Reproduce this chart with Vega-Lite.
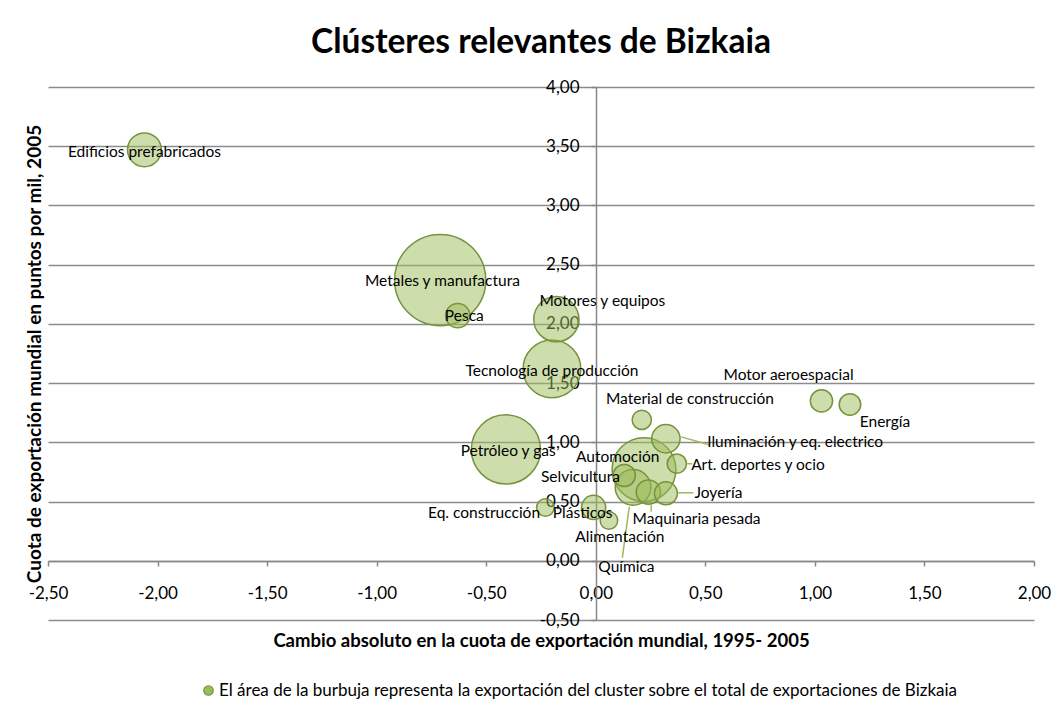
{
  "$schema": "https://vega.github.io/schema/vega-lite/v6.json",
  "width": 986,
  "height": 533,
  "autosize": "none",
  "padding": {"left": 48, "top": 87, "right": 25, "bottom": 87},
  "background": "#ffffff",
  "title": {
    "text": "Clústeres relevantes de Bizkaia",
    "font": "Lato",
    "fontSize": 33.5,
    "fontWeight": "bold",
    "color": "#000000",
    "anchor": "middle",
    "frame": "group",
    "offset": 18
  },
  "datasets": {
    "clusters": [
      {"cluster": "Metales y manufactura", "cambio": -0.71, "cuota": 2.37, "exportacion": 27.0, "lx": -0.70, "ly": 2.36},
      {"cluster": "Petróleo y gas", "cambio": -0.41, "cuota": 0.94, "exportacion": 15.5, "lx": -0.40, "ly": 0.93},
      {"cluster": "Automoción", "cambio": 0.22, "cuota": 0.77, "exportacion": 13.2, "lx": 0.10, "ly": 0.88},
      {"cluster": "Tecnología de producción", "cambio": -0.20, "cuota": 1.62, "exportacion": 10.8, "lx": -0.20, "ly": 1.60},
      {"cluster": "Motores y equipos", "cambio": -0.18, "cuota": 2.04, "exportacion": 6.6, "lx": 0.03, "ly": 2.19},
      {"cluster": "Química", "cambio": 0.17, "cuota": 0.62, "exportacion": 4.1, "lx": 0.14, "ly": -0.05},
      {"cluster": "Edificios prefabricados", "cambio": -2.06, "cuota": 3.47, "exportacion": 3.7, "lx": -2.06, "ly": 3.45},
      {"cluster": "Iluminación y eq. electrico", "cambio": 0.32, "cuota": 1.03, "exportacion": 2.6, "lx": 0.91, "ly": 1.00},
      {"cluster": "Pesca", "cambio": -0.63, "cuota": 2.07, "exportacion": 1.9, "lx": -0.60, "ly": 2.07},
      {"cluster": "Plásticos", "cambio": -0.01, "cuota": 0.45, "exportacion": 1.9, "lx": -0.06, "ly": 0.40},
      {"cluster": "Maquinaria pesada", "cambio": 0.24, "cuota": 0.58, "exportacion": 1.9, "lx": 0.46, "ly": 0.35},
      {"cluster": "Joyería", "cambio": 0.32, "cuota": 0.57, "exportacion": 1.7, "lx": 0.56, "ly": 0.57},
      {"cluster": "Selvicultura", "cambio": 0.13, "cuota": 0.72, "exportacion": 1.6, "lx": -0.07, "ly": 0.71},
      {"cluster": "Motor aeroespacial", "cambio": 1.03, "cuota": 1.35, "exportacion": 1.6, "lx": 0.88, "ly": 1.57},
      {"cluster": "Energía", "cambio": 1.16, "cuota": 1.32, "exportacion": 1.5, "lx": 1.32, "ly": 1.17},
      {"cluster": "Material de construcción", "cambio": 0.21, "cuota": 1.19, "exportacion": 1.2, "lx": 0.43, "ly": 1.37},
      {"cluster": "Art. deportes y ocio", "cambio": 0.37, "cuota": 0.82, "exportacion": 1.2, "lx": 0.74, "ly": 0.81},
      {"cluster": "Alimentación", "cambio": 0.06, "cuota": 0.34, "exportacion": 1.0, "lx": 0.11, "ly": 0.20},
      {"cluster": "Eq. construcción", "cambio": -0.23, "cuota": 0.45, "exportacion": 1.0, "lx": -0.51, "ly": 0.40}
    ],
    "guias": [
      {"cluster": "Iluminación y eq. electrico", "x1": 0.39, "y1": 1.046, "x2": 0.517, "y2": 0.979},
      {"cluster": "Art. deportes y ocio", "x1": 0.417, "y1": 0.819, "x2": 0.44, "y2": 0.819},
      {"cluster": "Joyería", "x1": 0.376, "y1": 0.574, "x2": 0.445, "y2": 0.574},
      {"cluster": "Maquinaria pesada", "x1": 0.253, "y1": 0.473, "x2": 0.253, "y2": 0.414},
      {"cluster": "Química", "x1": 0.153, "y1": 0.456, "x2": 0.121, "y2": 0.025}
    ]
  },
  "resolve": {"axis": {"y": "independent"}},
  "layer": [
    {
      "data": {"name": "clusters"},
      "transform": [{"calculate": "'El área de la burbuja representa la exportación del cluster sobre el total de exportaciones de Bizkaia'", "as": "serie"}],
      "mark": {"type": "point", "shape": "circle", "filled": true, "fillOpacity": 0.5, "stroke": "#77933c", "strokeWidth": 1.5, "strokeOpacity": 1},
      "encoding": {
        "x": {
          "field": "cambio", "type": "quantitative",
          "scale": {"domain": [-2.5, 2], "nice": false, "zero": false},
          "axis": {"title": "Cambio absoluto  en la cuota de exportación  mundial, 1995- 2005", "values": [-2.5, -2, -1.5, -1, -0.5, 0, 0.5, 1, 1.5, 2]}
        },
        "y": {
          "field": "cuota", "type": "quantitative",
          "scale": {"domain": [-0.5, 4], "nice": false, "zero": false},
          "axis": {
            "orient": "left",
            "values": [-0.5, 0, 0.5, 1, 1.5, 2, 2.5, 3, 3.5, 4],
            "grid": true, "gridColor": "#8c8c8c", "gridWidth": 1.5,
            "labels": false, "ticks": false, "domain": false, "title": null
          }
        },
        "size": {
          "field": "exportacion", "type": "quantitative",
          "scale": {"type": "linear", "domain": [0, 27], "range": [0, 8332], "zero": true},
          "legend": null
        },
        "color": {
          "field": "serie", "type": "nominal",
          "scale": {"range": ["#9bbb59"]},
          "legend": {
            "orient": "none", "legendX": 152, "legendY": 595,
            "title": null, "labelFont": "Lato", "labelFontSize": 17, "labelColor": "#000000",
            "labelLimit": 0, "labelOffset": 2, "symbolSize": 90, "symbolStrokeColor": "#77933c", "symbolStrokeWidth": 1.2, "symbolType": "circle"
          }
        }
      }
    },
    {
      "data": {"name": "guias"},
      "mark": {"type": "rule", "color": "#9bbb59", "strokeWidth": 1.5},
      "encoding": {
        "x": {"field": "x1", "type": "quantitative", "axis": {"title": "Cambio absoluto  en la cuota de exportación  mundial, 1995- 2005", "values": [-2.5, -2, -1.5, -1, -0.5, 0, 0.5, 1, 1.5, 2]}},
        "y": {"field": "y1", "type": "quantitative", "axis": null},
        "x2": {"field": "x2"},
        "y2": {"field": "y2"}
      }
    },
    {
      "data": {"name": "clusters"},
      "mark": {"type": "text", "font": "Lato", "fontSize": 15.5, "color": "#000000", "align": "center", "baseline": "middle"},
      "encoding": {
        "x": {"field": "lx", "type": "quantitative", "axis": {"title": "Cambio absoluto  en la cuota de exportación  mundial, 1995- 2005", "values": [-2.5, -2, -1.5, -1, -0.5, 0, 0.5, 1, 1.5, 2]}},
        "y": {
          "field": "ly", "type": "quantitative",
          "axis": {
            "orient": "left",
            "offset": -548,
            "values": [-0.5, 0, 0.5, 1, 1.5, 2, 2.5, 3, 3.5, 4],
            "labelExpr": "(datum.value < 0 ? '-' : '') + replace(format(abs(datum.value), '.2f'), '.', ',')",
            "grid": false,
            "domainColor": "#888888", "domainWidth": 1.5,
            "tickColor": "#888888", "tickWidth": 1.5, "tickSize": 5,
            "labelPadding": 12, "labelFont": "Lato", "labelFontSize": 17, "labelColor": "#000000",
            "labelFlush": false, "labelOverlap": false,
            "title": "Cuota de exportación  mundial en puntos por mil,  2005",
            "titleFont": "Lato", "titleFontSize": 19, "titleFontWeight": "bold", "titleColor": "#000000",
            "titleX": -562, "titleBaseline": "middle"
          }
        },
        "text": {"field": "cluster"}
      }
    }
  ],
  "config": {
    "view": {"stroke": null},
    "axisX": {
      "offset": -59,
      "labelExpr": "(datum.value < 0 ? '-' : '') + replace(format(abs(datum.value), '.2f'), '.', ',')",
      "grid": false,
      "domainColor": "#888888", "domainWidth": 1.5,
      "tickColor": "#888888", "tickWidth": 1.5, "tickSize": 5,
      "labelPadding": 19, "labelFont": "Lato", "labelFontSize": 17, "labelColor": "#000000",
      "labelFlush": false, "labelOverlap": false,
      "titleFont": "Lato", "titleFontSize": 18.5, "titleFontWeight": "bold", "titleColor": "#000000",
      "titleY": 79, "titleBaseline": "middle"
    }
  }
}
